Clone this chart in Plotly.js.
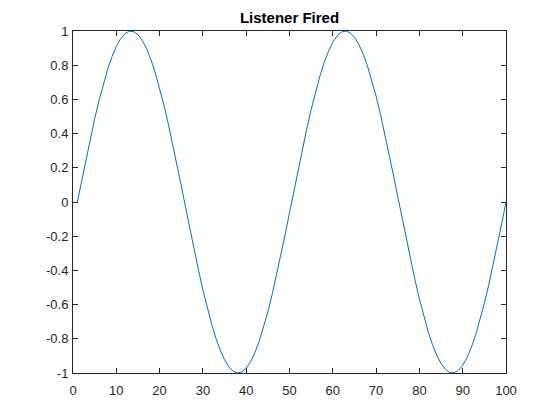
<!DOCTYPE html>
<html>
<head>
<meta charset="utf-8">
<script src="https://cdn.plot.ly/plotly-3.0.1.min.js"></script>
<style>html,body{margin:0;padding:0;background:#fff;}#chart{width:560px;height:420px;}</style>
</head>
<body>
<div id="chart"></div>
<script>
const xIndex = [1,2,3,4,5,6,7,8,9,10,11,12,13,14,15,16,17,18,19,20,
21,22,23,24,25,26,27,28,29,30,31,32,33,34,35,36,37,38,39,40,
41,42,43,44,45,46,47,48,49,50,51,52,53,54,55,56,57,58,59,60,
61,62,63,64,65,66,67,68,69,70,71,72,73,74,75,76,77,78,79,80,
81,82,83,84,85,86,87,88,89,90,91,92,93,94,95,96,97,98,99,100];
const yValues = [0,0.1266,0.2511,0.3717,0.4862,0.5929,0.6901,0.7761,0.8497,0.9096,
0.9549,0.9848,0.9989,0.9969,0.9788,0.9450,0.8960,0.8326,0.7557,0.6668,
0.5671,0.4582,0.3420,0.2203,0.0951,-0.0317,-0.1580,-0.2817,-0.4009,-0.5137,
-0.6182,-0.7127,-0.7958,-0.8660,-0.9224,-0.9639,-0.9898,-0.9999,-0.9938,-0.9718,
-0.9342,-0.8815,-0.8146,-0.7346,-0.6428,-0.5406,-0.4298,-0.3120,-0.1893,-0.0634,
0.0634,0.1893,0.3120,0.4298,0.5406,0.6428,0.7346,0.8146,0.8815,0.9342,
0.9718,0.9938,0.9999,0.9898,0.9639,0.9224,0.8660,0.7958,0.7127,0.6182,
0.5137,0.4009,0.2817,0.1580,0.0317,-0.0951,-0.2203,-0.3420,-0.4582,-0.5671,
-0.6668,-0.7557,-0.8326,-0.8960,-0.9450,-0.9788,-0.9969,-0.9989,-0.9848,-0.9549,
-0.9096,-0.8497,-0.7761,-0.6901,-0.5929,-0.4862,-0.3717,-0.2511,-0.1266,0];
const xTicks = [0,10,20,30,40,50,60,70,80,90,100];
const yTicks = [-1,-0.8,-0.6,-0.4,-0.2,0,0.2,0.4,0.6,0.8,1];
const yTickText = ['-1','-0.8','-0.6','-0.4','-0.2','0','0.2','0.4','0.6','0.8','1'];
const titleText = 'Listener Fired';

const axisCommon = {
  showgrid: false, zeroline: false, showline: true, mirror: 'ticks',
  linecolor: '#262626', linewidth: 1, ticks: 'inside', ticklen: 5,
  tickcolor: '#262626', tickwidth: 1,
  tickfont: {family: 'Liberation Sans, Arial, sans-serif', size: 13, color: '#262626'},
  tickmode: 'array'
};

Plotly.newPlot('chart', [{
  x: xIndex, y: yValues, type: 'scatter', mode: 'lines',
  line: {color: '#0072BD', width: 1}, hoverinfo: 'skip'
}], {
  width: 560, height: 420,
  margin: {l: 73, r: 54, t: 31, b: 47, pad: 0},
  paper_bgcolor: '#ffffff', plot_bgcolor: '#ffffff',
  showlegend: false,
  title: {text: '<b>' + titleText + '</b>', x: 0.5, xanchor: 'center', y: 0.958, yanchor: 'middle',
    xref: 'paper',
    font: {family: 'Liberation Sans, Arial, sans-serif', size: 15, color: '#000'}},
  xaxis: Object.assign({}, axisCommon, {range: [0, 100], tickvals: xTicks, ticktext: xTicks.map(String), ticklabelstandoff: 5}),
  yaxis: Object.assign({}, axisCommon, {range: [-1, 1], tickvals: yTicks, ticktext: yTickText, ticklabelstandoff: 1})
}, {staticPlot: true});
</script>
</body>
</html>
